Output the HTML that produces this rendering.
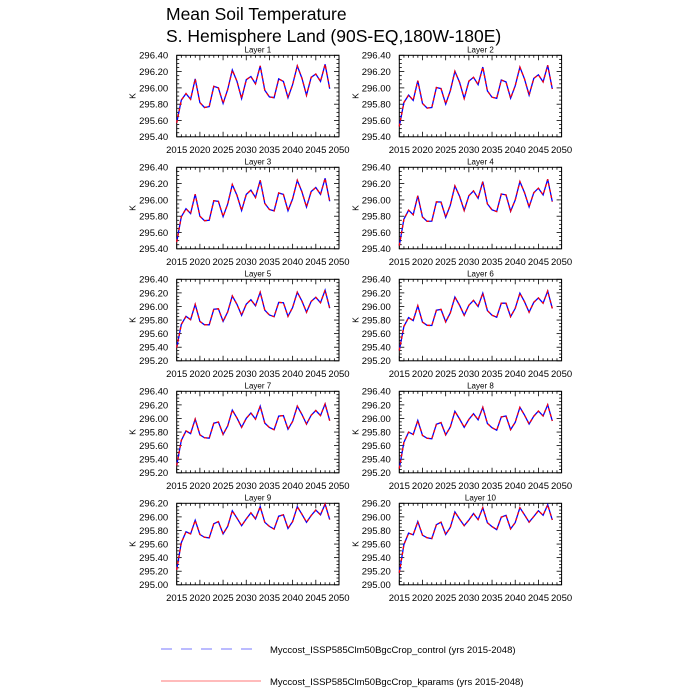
<!DOCTYPE html>
<html><head><meta charset="utf-8"><style>
body{margin:0;background:#fff;}
svg{display:block;font-family:"Liberation Sans",sans-serif;}
</style></head><body>
<svg id="s" width="700" height="700" viewBox="0 0 700 700" xmlns="http://www.w3.org/2000/svg">
<text x="166" y="20" font-size="17.5">Mean Soil Temperature</text>
<text x="166" y="42" font-size="17.5">S. Hemisphere Land (90S-EQ,180W-180E)</text>
<line x1="161" y1="649" x2="261" y2="649" stroke="#7777ff" stroke-width="1" stroke-dasharray="11,9"/>
<text x="270" y="653" font-size="9.5">Myccost_ISSP585Clm50BgcCrop_control (yrs 2015-2048)</text>
<line x1="161" y1="681" x2="261" y2="681" stroke="#ff7777" stroke-width="1"/>
<text x="270" y="685" font-size="9.5">Myccost_ISSP585Clm50BgcCrop_kparams (yrs 2015-2048)</text>
</svg>
<script>
var L1=[295.57,295.85,295.93,295.86,296.11,295.82,295.76,295.77,296.02,296.00,295.81,295.98,296.22,296.08,295.87,296.10,296.14,296.05,296.27,295.97,295.89,295.88,296.11,296.08,295.88,296.04,296.27,296.12,295.91,296.13,296.17,296.08,296.29,295.99];
var L9=[295.22,295.62,295.78,295.75,295.95,295.74,295.70,295.69,295.90,295.93,295.75,295.86,296.09,295.98,295.87,295.97,296.06,295.97,296.15,295.92,295.86,295.82,296.01,296.03,295.83,295.93,296.15,296.04,295.92,296.02,296.10,296.03,296.19,295.96];
var s=document.getElementById('s'),h='';
var W=162.3,H=81.5;
for(var k=0;k<10;k++){
 var col=k%2,row=Math.floor(k/2);
 var x0=col?399.3:176.7,y0=55.3+row*112;
 var lo=k<4?295.4:(k<8?295.2:295.0),hi=k<8?296.4:296.2;
 var n=Math.round((hi-lo)/0.2);
 var X=function(yr){return x0+(yr-2015)/35*W;};
 var Y=function(v){return y0+H-(v-lo)/(hi-lo)*H;};
 h+='<text x="'+(x0+W/2)+'" y="'+(y0-3)+'" font-size="8" text-anchor="middle">Layer '+(k+1)+'</text>';
 h+='<rect x="'+x0+'" y="'+y0+'" width="'+W+'" height="'+H+'" fill="none" stroke="#000" stroke-width="1"/>';
 for(var yr=2015;yr<=2050;yr++){var xx=X(yr),L=(yr%5==0)?5:2.5;
  h+='<line x1="'+xx+'" y1="'+(y0+H)+'" x2="'+xx+'" y2="'+(y0+H-L)+'" stroke="#000" stroke-width="0.8"/>';
  h+='<line x1="'+xx+'" y1="'+y0+'" x2="'+xx+'" y2="'+(y0+L)+'" stroke="#000" stroke-width="0.8"/>';
  if(yr%5==0)h+='<text x="'+xx+'" y="'+(y0+H+16)+'" font-size="9.5" text-anchor="middle">'+yr+'</text>';}
 for(var j=0;j<=n*4;j++){var v=lo+j*0.05,yy=Y(v),L=(j%4==0)?5:2.5;
  h+='<line x1="'+x0+'" y1="'+yy+'" x2="'+(x0+L)+'" y2="'+yy+'" stroke="#000" stroke-width="0.8"/>';
  h+='<line x1="'+(x0+W)+'" y1="'+yy+'" x2="'+(x0+W-L)+'" y2="'+yy+'" stroke="#000" stroke-width="0.8"/>';
  if(j%4==0)h+='<text x="'+(x0-8.5)+'" y="'+(yy+3.4)+'" font-size="9.5" text-anchor="end">'+v.toFixed(2)+'</text>';}
 h+='<text x="0" y="0" font-size="8.5" text-anchor="middle" transform="translate('+(x0-41)+','+(y0+H/2)+') rotate(-90)">K</text>';
 var t=k/8,p='';
 for(var i=0;i<34;i++){var v=L1[i]+(L9[i]-L1[i])*t;p+=(i?'L':'M')+X(2015+i).toFixed(1)+' '+Y(v).toFixed(1);}
 h+='<path d="'+p+'" fill="none" stroke="#0000ff" stroke-width="1.3"/>';
 h+='<path d="'+p+'" fill="none" stroke="#ff0000" stroke-width="1.3" stroke-dasharray="3,3"/>';
}
s.insertAdjacentHTML('beforeend',h);
</script>
</body></html>
